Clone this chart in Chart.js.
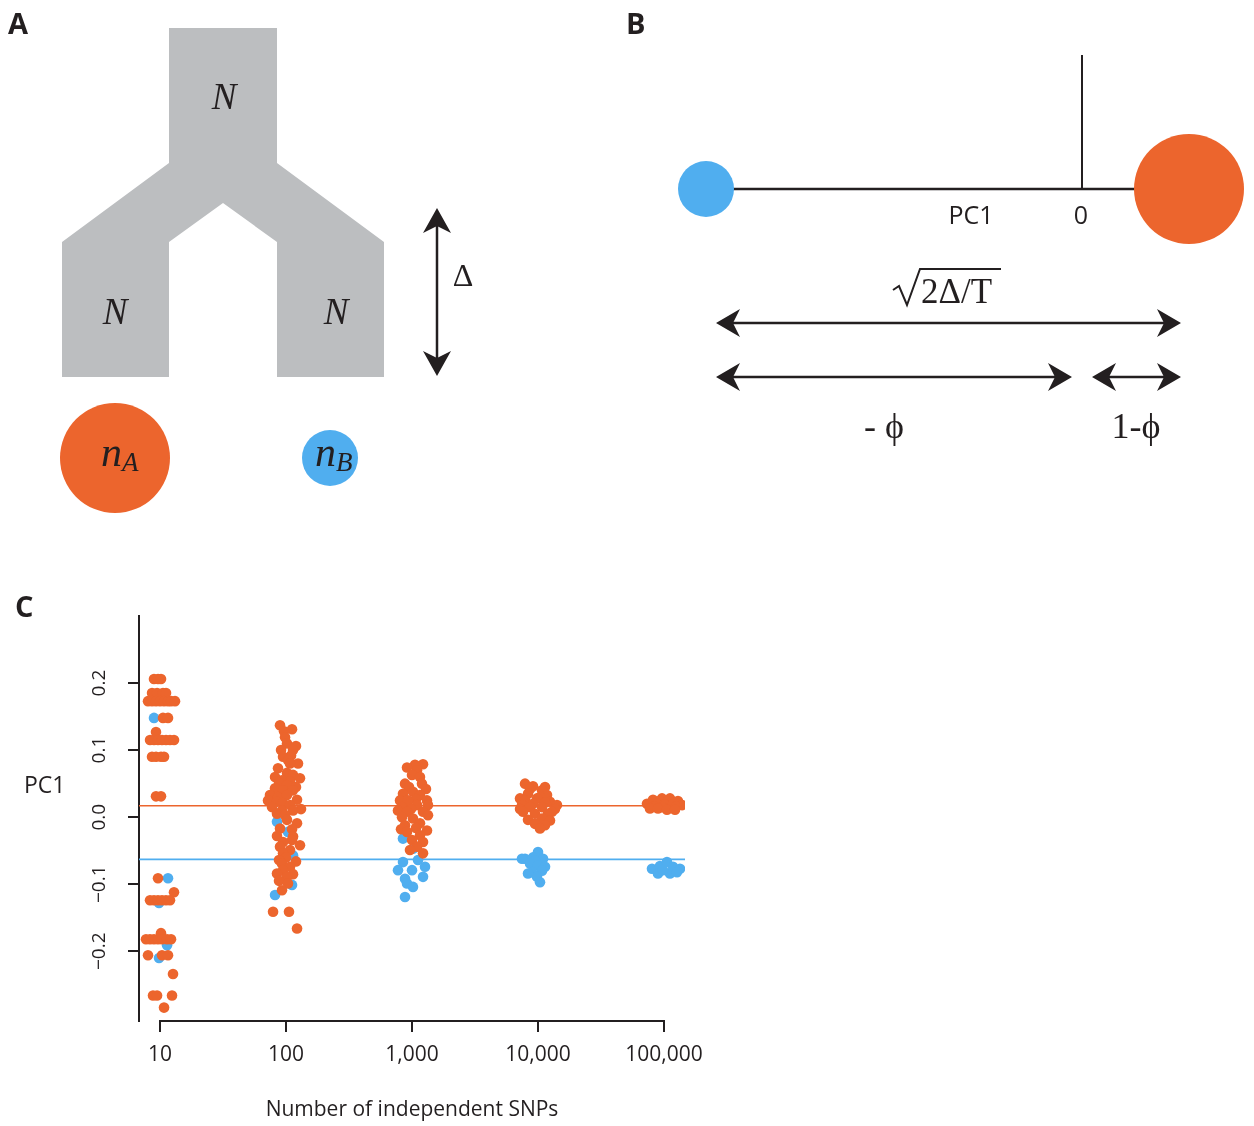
<!DOCTYPE html>
<html>
<head>
<meta charset="utf-8">
<title>PC1 vs number of SNPs</title>
<script src="https://cdn.jsdelivr.net/npm/chart.js@4/dist/chart.umd.min.js"></script>
<style>
  html, body { margin: 0; padding: 0; background: #fff; }
  #page { position: relative; width: 1254px; height: 1126px; overflow: hidden; }
  #diagram { position: absolute; left: 0; top: 0; z-index: 2; pointer-events: none; }
  #panelC { position: absolute; left: 0; top: 590px; z-index: 1; }
  .lbl { font-family: "Open Sans", sans-serif; font-weight: 700; font-size: 29px; fill: #231f20; }
  .sans { font-family: "Open Sans", sans-serif; fill: #231f20; }
  .serif { font-family: "Liberation Serif", "DejaVu Serif", serif; fill: #231f20; }
</style>
</head>
<body>
<div id="page">
  <svg id="diagram" width="1254" height="1126" viewBox="0 0 1254 1126">
    <!-- panel A -->
    <text class="lbl" x="8" y="34">A</text>
    <polygon fill="#bcbec0" points="169,28 277,28 277,163 384,242 384,377 277,377 277,242 223,203 169,242 169,377 62,377 62,242 169,163"/>
    <text class="serif" font-style="italic" font-size="37" text-anchor="middle" x="224" y="109">N</text>
    <text class="serif" font-style="italic" font-size="37" text-anchor="middle" x="115" y="324">N</text>
    <text class="serif" font-style="italic" font-size="37" text-anchor="middle" x="336" y="324">N</text>
    <line x1="437" y1="222" x2="437" y2="362" stroke="#231f20" stroke-width="2.5"/>
    <path d="M437,208 L423,233 L437,226 L451,233 Z" fill="#231f20"/>
    <path d="M437,376 L423,351 L437,358 L451,351 Z" fill="#231f20"/>
    <text class="serif" font-size="32" text-anchor="middle" x="463" y="286">Δ</text>
    <circle cx="115" cy="458" r="55" fill="#ec652d"/>
    <circle cx="330" cy="458" r="28" fill="#50aeef"/>
    <text class="serif" font-style="italic" font-size="42" x="101" y="466">n<tspan font-size="27" dy="5">A</tspan></text>
    <text class="serif" font-style="italic" font-size="42" x="315" y="466">n<tspan font-size="27" dy="5">B</tspan></text>

    <!-- panel B -->
    <text class="lbl" x="626" y="34">B</text>
    <line x1="1082" y1="55" x2="1082" y2="189" stroke="#231f20" stroke-width="2"/>
    <line x1="706" y1="189" x2="1189" y2="189" stroke="#231f20" stroke-width="2.5"/>
    <circle cx="706" cy="189" r="28" fill="#50aeef"/>
    <circle cx="1189" cy="189" r="55" fill="#ec652d"/>
    <text class="sans" font-size="25" text-anchor="middle" x="971" y="224">PC1</text>
    <text class="sans" font-size="25" text-anchor="middle" x="1081" y="224">0</text>
    <path d="M893,290 L899,286 L907,305 L920,269 L1001,269" fill="none" stroke="#231f20" stroke-width="2"/>
    <text class="serif" font-size="35" x="921" y="303">2Δ/T</text>
    <line x1="725" y1="323" x2="1172" y2="323" stroke="#231f20" stroke-width="2.5"/>
    <path d="M716,323 L740,309 L733,323 L740,337 Z" fill="#231f20"/>
    <path d="M1181,323 L1157,309 L1164,323 L1157,337 Z" fill="#231f20"/>
    <line x1="725" y1="377" x2="1063" y2="377" stroke="#231f20" stroke-width="2.5"/>
    <path d="M716,377 L740,363 L733,377 L740,391 Z" fill="#231f20"/>
    <path d="M1072,377 L1048,363 L1055,377 L1048,391 Z" fill="#231f20"/>
    <line x1="1101" y1="377" x2="1172" y2="377" stroke="#231f20" stroke-width="2.5"/>
    <path d="M1092,377 L1116,363 L1109,377 L1116,391 Z" fill="#231f20"/>
    <path d="M1181,377 L1157,363 L1164,377 L1157,391 Z" fill="#231f20"/>
    <text class="serif" font-size="36" text-anchor="middle" x="884" y="438">- ϕ</text>
    <text class="serif" font-size="36" text-anchor="middle" x="1136" y="438">1-ϕ</text>

    <!-- panel C labels -->
    <text class="lbl" x="15" y="617">C</text>
    <text class="sans" font-size="23" x="24" y="793">PC1</text>
  </svg>
  <canvas id="panelC" width="720" height="536"></canvas>
</div>

<script>
// axis setup
const xTicks = [10, 100, 1000, 10000, 100000];
const yTicks = [-0.2, -0.1, 0, 0.1, 0.2];
const xRange = [6.81, 146800];
const yRange = [-0.304, 0.3];

// expected PC1 of each population (horizontal lines)
const expectedA = 0.017;
const expectedB = -0.063;

// [number of SNPs (jittered), PC1]  - population A (orange)
const popA_10 = [
  [8.96, 0.206], [9.64, 0.206], [10.18, 0.206],
  [8.64, 0.185], [9.47, 0.185], [10.56, 0.185], [11.16, 0.185],
  [8.03, 0.173], [8.64, 0.173], [9.29, 0.173], [10.0, 0.173], [10.76, 0.173], [11.57, 0.173], [12.23, 0.173], [13.15, 0.173],
  [10.56, 0.148], [11.57, 0.148],
  [9.29, 0.127],
  [8.33, 0.115], [8.96, 0.115], [9.64, 0.115], [10.37, 0.115], [11.16, 0.115], [12.0, 0.115], [12.91, 0.115],
  [8.64, 0.090], [9.29, 0.090], [10.18, 0.090], [10.76, 0.090],
  [9.29, 0.031], [10.18, 0.031],
  [9.64, -0.091],
  [12.91, -0.112],
  [8.33, -0.124], [8.96, -0.124], [9.64, -0.124], [10.37, -0.124], [11.16, -0.124], [12.0, -0.124],
  [10.18, -0.173],
  [7.74, -0.182], [8.33, -0.182], [8.96, -0.182], [9.64, -0.182], [10.37, -0.182], [11.37, -0.182], [12.23, -0.182],
  [8.03, -0.206], [10.37, -0.206], [11.57, -0.206],
  [12.68, -0.234],
  [8.80, -0.266], [9.47, -0.266], [12.45, -0.266],
  [10.76, -0.284]
];
const popA_100 = [
  [89.6, 0.137], [111.6, 0.131], [96.4, 0.128], [98.2, 0.119], [101.8, 0.110],
  [120.0, 0.106], [113.7, 0.100], [91.3, 0.100], [109.6, 0.092], [94.7, 0.090],
  [103.7, 0.085], [124.5, 0.080], [107.6, 0.080], [86.4, 0.073], [101.8, 0.066],
  [113.7, 0.063], [81.8, 0.060], [129.1, 0.058], [92.9, 0.055], [107.6, 0.053],
  [88.0, 0.051], [101.8, 0.048], [120.0, 0.045], [81.8, 0.043], [94.7, 0.040],
  [113.7, 0.040], [74.6, 0.033], [86.4, 0.030], [101.8, 0.033], [122.3, 0.026],
  [72.0, 0.025], [84.8, 0.023], [94.7, 0.021], [107.6, 0.018], [77.4, 0.015],
  [131.5, 0.012], [113.7, 0.010], [92.9, 0.010], [84.8, 0.005], [98.2, 0.003],
  [101.8, -0.004], [122.3, -0.009], [89.6, -0.017], [111.6, -0.018], [84.8, -0.028],
  [113.7, -0.029], [111.6, -0.034], [94.7, -0.037], [129.1, -0.042], [89.6, -0.044],
  [107.6, -0.049], [94.7, -0.054], [100.0, -0.060], [88.0, -0.064], [120.0, -0.066],
  [92.9, -0.069], [107.6, -0.074], [94.7, -0.079], [84.8, -0.084], [113.7, -0.085],
  [101.8, -0.089], [88.0, -0.095], [103.7, -0.099], [92.9, -0.109],
  [78.9, -0.141], [105.6, -0.141], [122.3, -0.166]
];
const popA_1000 = [
  [1223, 0.079], [1056, 0.078], [913, 0.074], [1096, 0.070], [1000, 0.063],
  [1157, 0.060], [880, 0.050], [1200, 0.050], [947, 0.045], [1291, 0.042],
  [848, 0.035], [1018, 0.038], [1157, 0.033], [1076, 0.027], [803, 0.025],
  [929, 0.025], [1315, 0.025], [833, 0.015], [1096, 0.018], [1339, 0.018],
  [982, 0.012], [774, 0.010], [913, 0.008], [1223, 0.008], [1339, 0.003],
  [833, 0.000], [1018, -0.002], [880, -0.012], [1157, -0.009], [1076, -0.016],
  [818, -0.018], [1315, -0.020], [913, -0.022], [1157, -0.027], [1000, -0.034],
  [1223, -0.037], [1096, -0.044], [964, -0.049], [1223, -0.054]
];
const popA_10000 = [
  [7890, 0.050], [9130, 0.046], [11370, 0.045], [8640, 0.042], [10760, 0.040],
  [8330, 0.035], [11790, 0.033], [10370, 0.030], [7200, 0.028], [9820, 0.028],
  [7890, 0.025], [12450, 0.023], [11370, 0.022], [9130, 0.020], [14150, 0.018],
  [7460, 0.018], [8640, 0.015], [10760, 0.015], [13640, 0.012], [7200, 0.012],
  [7600, 0.008], [12910, 0.008], [9470, 0.005], [12000, 0.005], [10760, -0.002],
  [8330, -0.004], [12450, -0.005], [9470, -0.010], [11370, -0.012], [10370, -0.017]
];
const popA_100000 = [
  [73300, 0.020], [81800, 0.026], [96400, 0.028], [111600, 0.028], [129100, 0.024],
  [92900, 0.024], [107600, 0.024], [138900, 0.018], [88000, 0.020], [101800, 0.019],
  [117900, 0.019], [83300, 0.016], [124500, 0.016], [96400, 0.015], [77400, 0.013],
  [89600, 0.013], [105600, 0.011], [122300, 0.011]
];

// population B (blue)
const popB_10 = [
  [8.96, 0.148], [11.57, -0.091], [9.82, -0.128], [11.37, -0.191], [9.82, -0.210]
];
const popB_100 = [
  [84.8, -0.007], [103.7, -0.022], [113.7, -0.057], [111.6, -0.101], [81.8, -0.116]
];
const popB_1000 = [
  [848, -0.032], [1018, -0.047], [848, -0.067], [1116, -0.064], [1268, -0.074],
  [774, -0.079], [1000, -0.079], [880, -0.092], [1223, -0.089], [913, -0.099],
  [1018, -0.104], [880, -0.119]
];
const popB_10000 = [
  [10000, -0.052], [7890, -0.062], [9130, -0.060], [10960, -0.062], [7460, -0.062],
  [9470, -0.065], [8640, -0.069], [10000, -0.072], [11370, -0.074], [10760, -0.080],
  [8960, -0.082], [8330, -0.084], [9820, -0.089], [10370, -0.097]
];
const popB_100000 = [
  [80300, -0.077], [92900, -0.073], [105600, -0.067], [117900, -0.074], [133900, -0.077],
  [89600, -0.084], [111600, -0.084], [98200, -0.079], [126800, -0.082]
];

const orange = "#ec652d";
const blue = "#50aeef";
const ink = "#231f20";
const font = "'Open Sans', sans-serif";

const toPoints = arr => arr.map(([x, y]) => ({ x, y }));

const popA = [...popA_10, ...popA_100, ...popA_1000, ...popA_10000, ...popA_100000];
const popB = [...popB_10, ...popB_100, ...popB_1000, ...popB_10000, ...popB_100000];

// x axis line only spans the first to the last tick, like the original
const xAxisLine = {
  id: "xAxisLine",
  afterDraw(chart) {
    const xs = chart.scales.x;
    const ctx = chart.ctx;
    const y = chart.chartArea.bottom;
    ctx.save();
    ctx.strokeStyle = ink;
    ctx.lineWidth = 2;
    ctx.beginPath();
    ctx.moveTo(xs.getPixelForValue(xTicks[0]) - 1, y);
    ctx.lineTo(xs.getPixelForValue(xTicks[xTicks.length - 1]) + 1, y);
    ctx.stroke();
    ctx.restore();
  }
};

new Chart(document.getElementById("panelC"), {
  type: "scatter",
  data: {
    datasets: [
      {
        label: "Population A",
        data: toPoints(popA),
        backgroundColor: orange,
        borderWidth: 0,
        pointRadius: 5.3
      },
      {
        label: "Population B",
        data: toPoints(popB),
        backgroundColor: blue,
        borderWidth: 0,
        pointRadius: 5.3
      },
      {
        label: "Expected A",
        data: xRange.map(x => ({ x, y: expectedA })),
        showLine: true,
        borderColor: orange,
        borderWidth: 1.6,
        pointRadius: 0
      },
      {
        label: "Expected B",
        data: xRange.map(x => ({ x, y: expectedB })),
        showLine: true,
        borderColor: blue,
        borderWidth: 1.6,
        pointRadius: 0
      }
    ]
  },
  options: {
    responsive: false,
    devicePixelRatio: 1,
    animation: false,
    layout: { padding: { top: 26, right: 35, left: 0, bottom: 0 } },
    plugins: { legend: { display: false }, tooltip: { enabled: false } },
    scales: {
      x: {
        type: "logarithmic",
        min: xRange[0],
        max: xRange[1],
        afterBuildTicks: s => { s.ticks = xTicks.map(v => ({ value: v })); },
        afterFit: s => { s.height = 105; },
        border: { display: false },
        grid: { drawOnChartArea: false, color: ink, lineWidth: 2, tickLength: 11 },
        ticks: {
          color: ink,
          font: { family: font, size: 21 },
          padding: 10,
          maxRotation: 0,
          autoSkip: false,
          callback: v => Number(v).toLocaleString("en-US")
        },
        title: {
          display: true,
          text: "Number of independent SNPs",
          color: ink,
          font: { family: font, size: 21 },
          padding: { top: 0, bottom: 3 }
        }
      },
      y: {
        min: yRange[0],
        max: yRange[1],
        afterBuildTicks: s => { s.ticks = yTicks.map(v => ({ value: v })); },
        afterFit: s => { s.width = 139; },
        border: { display: true, color: ink, width: 2 },
        grid: { drawOnChartArea: false, color: ink, lineWidth: 2, tickLength: 11 },
        ticks: {
          color: ink,
          font: { family: font, size: 19 },
          minRotation: 90,
          maxRotation: 90,
          crossAlign: "center",
          padding: 10,
          callback: v => (v < 0 ? "\u2212" : "") + Math.abs(v).toFixed(1)
        }
      }
    }
  },
  plugins: [xAxisLine]
});
</script>
</body>
</html>
